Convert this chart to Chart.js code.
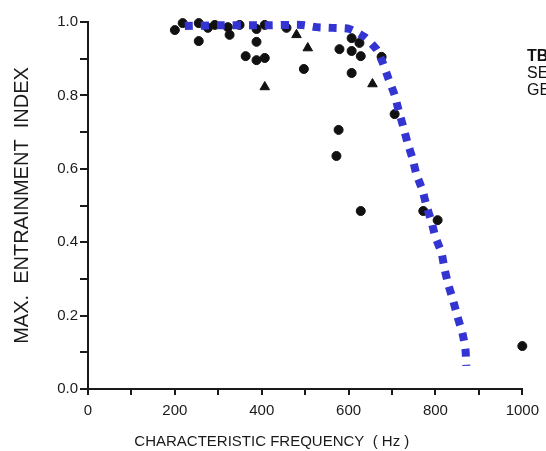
<!DOCTYPE html>
<html>
<head>
<meta charset="utf-8">
<script src="https://cdn.jsdelivr.net/npm/chart.js@4/dist/chart.umd.min.js"></script>
<style>
  html, body { margin: 0; padding: 0; background: #fff; overflow: hidden; }
  #wrap { position: relative; width: 546px; height: 451px; }
  #side { position: absolute; left: 527px; top: 47px; font-family: "Liberation Sans", Arial, sans-serif;
          font-size: 16px; line-height: 17px; color: #111; white-space: nowrap; }
</style>
</head>
<body>
<div id="wrap">
  <canvas id="c" width="546" height="451"></canvas>
  <div id="side"><b>TB</b><br>SE<br>GE</div>
</div>
<script>
// scanned scatter: max entrainment index vs characteristic frequency
const starX = [200, 218, 255, 255, 276, 292, 322, 326, 349, 363, 388, 388, 388, 407, 407, 457, 497,
               579, 607, 625, 607, 628, 607, 676, 706, 577, 572, 628, 772, 805, 1000];
const starY = [0.978, 0.997, 0.997, 0.948, 0.984, 0.992, 0.986, 0.965, 0.992, 0.907, 0.981, 0.946, 0.896, 0.902, 0.992, 0.984, 0.872,
               0.926, 0.956, 0.943, 0.921, 0.907, 0.861, 0.905, 0.749, 0.706, 0.635, 0.485, 0.485, 0.460, 0.117];

const triX = [407, 480, 506, 655];
const triY = [0.823, 0.965, 0.929, 0.831];

// hand-drawn blue dotted envelope
const curveX = [223, 300, 400, 492, 526, 563, 602, 637, 664, 678, 692, 706, 715, 726, 736, 747, 756,
                770, 779, 791, 800, 814, 821, 830, 841, 851, 862, 869, 871];
const curveY = [0.989, 0.991, 0.991, 0.992, 0.986, 0.984, 0.981, 0.959, 0.926, 0.891, 0.845, 0.801, 0.760, 0.714, 0.670, 0.629, 0.586,
                0.542, 0.501, 0.455, 0.414, 0.371, 0.327, 0.283, 0.240, 0.196, 0.153, 0.109, 0.063];

const zip = (xs, ys) => xs.map((x, i) => ({ x: x, y: ys[i] }));
const FONT = '"Liberation Sans", Arial, sans-serif';
const INK = '#1a1a1a';
const NB = '\u00a0';

new Chart(document.getElementById('c').getContext('2d'), {
  type: 'scatter',
  data: {
    datasets: [
      {
        label: 'envelope',
        type: 'line',
        data: zip(curveX, curveY),
        borderColor: '#3434d2',
        borderWidth: 8,
        borderDash: [8, 8],
        borderCapStyle: 'butt',
        pointRadius: 0,
        tension: 0.2,
        fill: false,
        clip: false,
        order: 0
      },
      {
        label: 'stars',
        data: zip(starX, starY),
        pointStyle: 'circle',
        pointRadius: 4.5,
        backgroundColor: '#111',
        borderColor: '#111',
        borderWidth: 1,
        clip: false,
        order: 1
      },
      {
        label: 'triangles',
        data: zip(triX, triY),
        pointStyle: 'triangle',
        pointRadius: 5.5,
        backgroundColor: '#111',
        borderColor: '#111',
        borderWidth: 1,
        clip: false,
        order: 1
      }
    ]
  },
  options: {
    responsive: false,
    animation: false,
    layout: { padding: { top: 22, right: 23, left: 0, bottom: 0 } },
    plugins: { legend: { display: false }, tooltip: { enabled: false } },
    scales: {
      x: {
        type: 'linear',
        min: 0, max: 1000,
        border: { color: INK, width: 2 },
        grid: { drawOnChartArea: false, color: INK, lineWidth: 2, tickLength: 6 },
        ticks: {
          stepSize: 100,
          autoSkip: false,
          maxRotation: 0,
          color: INK,
          font: { family: FONT, size: 15 },
          padding: 7,
          callback: v => (v % 200 === 0 ? String(v) : '')
        },
        title: {
          display: true,
          text: 'CHARACTERISTIC FREQUENCY' + NB + NB + '(' + NB + 'Hz' + NB + ')' + NB.repeat(16),
          color: INK,
          font: { family: FONT, size: 15 },
          padding: { top: 0, bottom: 0 }
        },
        afterFit: s => { s.height = 62; }
      },
      y: {
        type: 'linear',
        min: 0, max: 1,
        border: { color: INK, width: 2 },
        grid: { drawOnChartArea: false, color: INK, lineWidth: 2, tickLength: 8 },
        ticks: {
          stepSize: 0.1,
          autoSkip: false,
          color: INK,
          font: { family: FONT, size: 15 },
          padding: 2,
          callback: v => (Math.round(v * 10) % 2 === 0 ? v.toFixed(1) : '')
        },
        title: {
          display: true,
          text: 'MAX.' + NB + NB + 'ENTRAINMENT' + NB + NB + 'INDEX',
          color: INK,
          font: { family: FONT, size: 20 },
          padding: { top: 10, bottom: 4 }
        },
        afterFit: s => { s.width = 88; }
      }
    }
  }
});
</script>
</body>
</html>
